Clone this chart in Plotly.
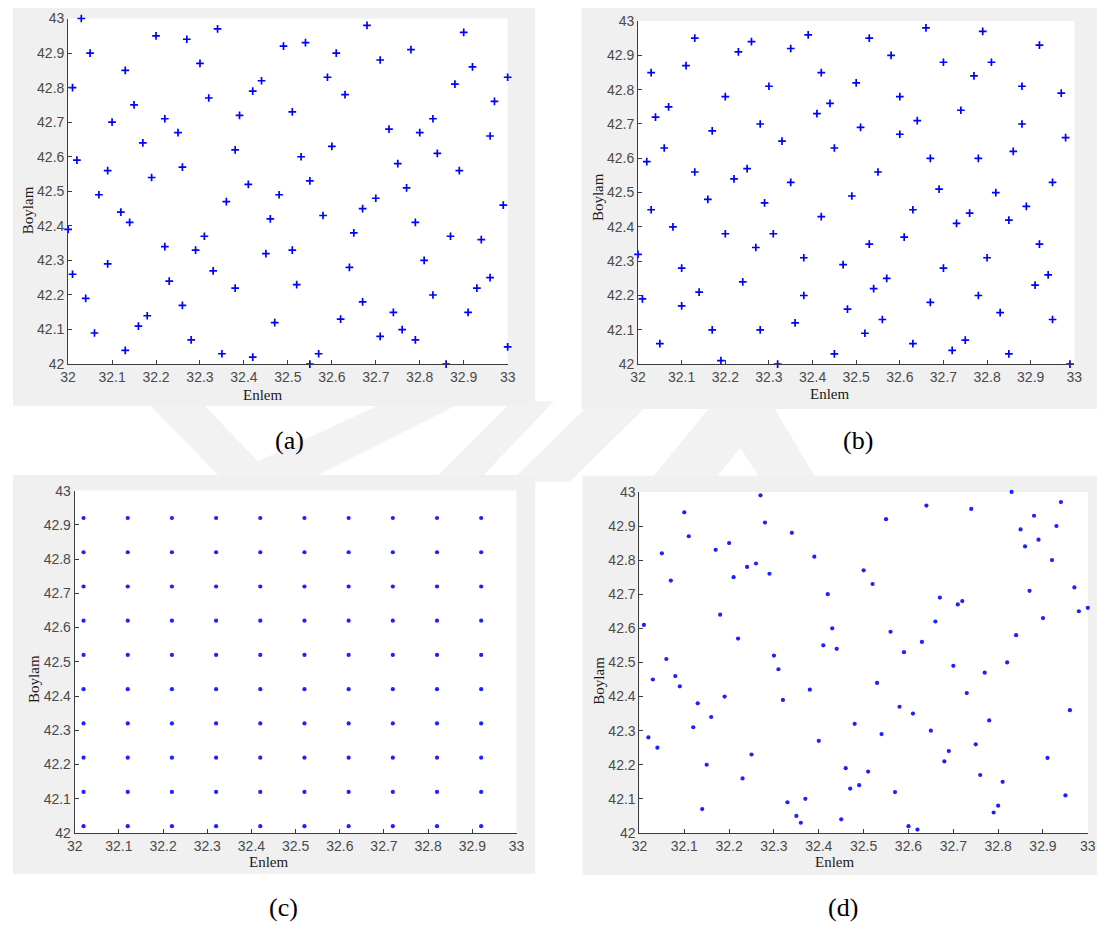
import plotly.graph_objects as go

W, H = 1105, 937

# ---------------- data: Enlem (x) / Boylam (y) samples ----------------
a_enlem = [32.03, 32.05, 32.01, 32.13, 32.20, 32.27, 32.34, 32.30, 32.15, 32.10,
           32.22, 32.25, 32.32, 32.17, 32.39, 32.42, 32.44, 32.49, 32.51, 32.02,
           32.09, 32.07, 32.19, 32.26, 32.38, 32.36, 32.41, 32.48, 32.46, 32.12,
           32.14, 32.00, 32.01, 32.09, 32.04, 32.06, 32.13, 32.16, 32.18, 32.22,
           32.23, 32.26, 32.29, 32.31, 32.33, 32.28, 32.35, 32.38, 32.42, 32.45,
           32.47, 32.51,
           32.68, 32.54, 32.61, 32.71, 32.78, 32.90, 32.92, 33.00, 32.88, 32.59,
           32.63, 32.97, 32.83, 32.73, 32.80, 32.96, 32.60, 32.53, 32.84, 32.75,
           32.89, 32.55, 32.77, 32.70, 32.67, 32.99, 32.58, 32.79, 32.65, 32.87,
           32.94, 32.81, 32.64, 32.96, 32.93, 32.52, 32.83, 32.67, 32.74, 32.91,
           32.62, 32.76, 32.71, 32.79, 33.00, 32.57, 32.55, 32.86]
a_boylam = [43.00, 42.90, 42.80, 42.85, 42.95, 42.94, 42.97, 42.87, 42.75, 42.70,
            42.71, 42.67, 42.77, 42.64, 42.72, 42.79, 42.82, 42.92, 42.73, 42.59,
            42.56, 42.49, 42.54, 42.57, 42.62, 42.47, 42.52, 42.49, 42.42, 42.44,
            42.41, 42.39, 42.26, 42.29, 42.19, 42.09, 42.04, 42.11, 42.14, 42.34,
            42.24, 42.17, 42.33, 42.37, 42.27, 42.07, 42.03, 42.22, 42.02, 42.32,
            42.12, 42.33,
            42.98, 42.93, 42.90, 42.88, 42.91, 42.96, 42.86, 42.83, 42.81, 42.83,
            42.78, 42.76, 42.71, 42.68, 42.67, 42.66, 42.63, 42.60, 42.61, 42.58,
            42.56, 42.53, 42.51, 42.48, 42.45, 42.46, 42.43, 42.41, 42.38, 42.37,
            42.36, 42.30, 42.28, 42.25, 42.22, 42.23, 42.20, 42.18, 42.15, 42.15,
            42.13, 42.10, 42.08, 42.07, 42.05, 42.03, 42.00, 42.00]

b_enlem = [32.13, 32.03, 32.11, 32.23, 32.26, 32.35, 32.39, 32.42, 32.30, 32.20,
           32.07, 32.04, 32.17, 32.28, 32.41, 32.44, 32.06, 32.33, 32.45, 32.02,
           32.13, 32.25, 32.22, 32.35, 32.16, 32.29, 32.03, 32.08, 32.20, 32.31,
           32.42, 32.27, 32.00, 32.38, 32.10, 32.47, 32.24, 32.14, 32.01, 32.38,
           32.10, 32.36, 32.17, 32.28, 32.05, 32.19, 32.32, 32.45,
           32.66, 32.79, 32.53, 32.92, 32.58, 32.70, 32.81, 32.77, 32.50, 32.88,
           32.97, 32.60, 32.74, 32.64, 32.51, 32.88, 32.60, 32.98, 32.86, 32.67,
           32.78, 32.55, 32.95, 32.69, 32.82, 32.49, 32.89, 32.63, 32.76, 32.85,
           32.73, 32.61, 32.53, 32.92, 32.80, 32.70, 32.57, 32.94, 32.91, 32.54,
           32.78, 32.67, 32.48, 32.83, 32.56, 32.95, 32.52, 32.63, 32.75, 32.72,
           32.85, 32.99]
b_boylam = [42.95, 42.85, 42.87, 42.91, 42.94, 42.92, 42.96, 42.85, 42.81, 42.78,
            42.75, 42.72, 42.68, 42.70, 42.73, 42.76, 42.63, 42.65, 42.63, 42.59,
            42.56, 42.57, 42.54, 42.53, 42.48, 42.47, 42.45, 42.40, 42.38, 42.38,
            42.43, 42.34, 42.32, 42.31, 42.28, 42.29, 42.24, 42.21, 42.19, 42.20,
            42.17, 42.12, 42.10, 42.10, 42.06, 42.01, 42.00, 42.03,
            42.98, 42.97, 42.95, 42.93, 42.90, 42.88, 42.88, 42.84, 42.82, 42.81,
            42.79, 42.78, 42.74, 42.71, 42.69, 42.70, 42.67, 42.66, 42.62, 42.60,
            42.60, 42.56, 42.53, 42.51, 42.50, 42.49, 42.46, 42.45, 42.44, 42.42,
            42.41, 42.37, 42.35, 42.35, 42.31, 42.28, 42.25, 42.26, 42.23, 42.22,
            42.20, 42.18, 42.16, 42.15, 42.13, 42.13, 42.09, 42.06, 42.07, 42.04,
            42.03, 42.00]

# regular lattice: column and row levels
c_enlem_levels = [32.02, 32.12, 32.22, 32.32, 32.42, 32.52, 32.62, 32.72, 32.82, 32.92]
c_boylam_levels = [42.02, 42.12, 42.22, 42.32, 42.42, 42.52, 42.62, 42.72, 42.82, 42.92]

d_enlem = [32.27, 32.10, 32.11, 32.28, 32.34, 32.05, 32.17, 32.20, 32.24, 32.26,
           32.21, 32.29, 32.39, 32.07, 32.42, 32.18, 32.01, 32.43, 32.22, 32.41,
           32.44, 32.30, 32.06, 32.31, 32.03, 32.08, 32.09, 32.38, 32.19, 32.32,
           32.13, 32.16, 32.12, 32.02, 32.40, 32.04, 32.25, 32.15, 32.23, 32.33,
           32.37, 32.14, 32.35, 32.36, 32.45,
           32.83, 32.94, 32.64, 32.74, 32.55, 32.88, 32.85, 32.93, 32.89, 32.86,
           32.92, 32.50, 32.52, 32.97, 32.87, 32.67, 32.72, 32.71, 32.98, 33.00,
           32.90, 32.66, 32.56, 32.84, 32.63, 32.59, 32.82, 32.70, 32.77, 32.73,
           32.53, 32.58, 32.61, 32.96, 32.48, 32.78, 32.54, 32.65, 32.75, 32.69,
           32.68, 32.91, 32.46, 32.51, 32.76, 32.47, 32.49, 32.81, 32.57, 32.95,
           32.80, 32.79, 32.60, 32.62]
d_boylam = [42.99, 42.94, 42.87, 42.91, 42.88, 42.82, 42.83, 42.85, 42.78, 42.79,
            42.75, 42.76, 42.81, 42.74, 42.70, 42.64, 42.61, 42.60, 42.57, 42.55,
            42.54, 42.52, 42.51, 42.48, 42.45, 42.46, 42.43, 42.42, 42.40, 42.39,
            42.38, 42.34, 42.31, 42.28, 42.27, 42.25, 42.23, 42.20, 42.16, 42.09,
            42.10, 42.07, 42.05, 42.03, 42.04,
            43.00, 42.97, 42.96, 42.95, 42.92, 42.93, 42.89, 42.90, 42.86, 42.84,
            42.80, 42.77, 42.73, 42.72, 42.71, 42.69, 42.68, 42.67, 42.65, 42.66,
            42.63, 42.62, 42.59, 42.58, 42.56, 42.53, 42.50, 42.49, 42.47, 42.41,
            42.44, 42.37, 42.35, 42.36, 42.32, 42.33, 42.29, 42.30, 42.26, 42.24,
            42.21, 42.22, 42.19, 42.18, 42.17, 42.13, 42.14, 42.15, 42.12, 42.11,
            42.08, 42.06, 42.02, 42.01]

x_tickvals = [32, 32.1, 32.2, 32.3, 32.4, 32.5, 32.6, 32.7, 32.8, 32.9, 33]
x_ticktext = ["32", "32.1", "32.2", "32.3", "32.4", "32.5", "32.6", "32.7", "32.8", "32.9", "33"]
y_tickvals = [42, 42.1, 42.2, 42.3, 42.4, 42.5, 42.6, 42.7, 42.8, 42.9, 43]
y_ticktext = ["42", "42.1", "42.2", "42.3", "42.4", "42.5", "42.6", "42.7", "42.8", "42.9", "43"]

panel_captions = ["(a)", "(b)", "(c)", "(d)"]
x_title = "Enlem"
y_title = "Boylam"

# lattice points for panel (c)
c_enlem = [xv for yv in c_boylam_levels for xv in c_enlem_levels]
c_boylam = [yv for yv in c_boylam_levels for xv in c_enlem_levels]


# ---------------- layout helpers (pixel -> paper) ----------------
def fx(p):
    return p / W


def fy(p):
    return 1 - p / H


BLUE = "#0000ff"
AXIS_COLOR = "#3c3c3c"
TICK_FONT = dict(family="Liberation Sans, Arial, sans-serif", size=14, color="#4a4a4a")
SERIF = "Liberation Serif, Times New Roman, serif"
PANEL_GRAY = "#f0f0f0"

# (panel box, axes box) in pixels: (x0, y0, x1, y1)
panels = [
    dict(box=(5, 0, 535, 405), axes=(61, 10.7, 507, 362.3),
         xt=(258, 394), yt=(21, 206), cap=(286, 440)),
    dict(box=(582, 0, 1105, 408), axes=(639.3, 13.3, 1082, 362.3),
         xt=(834, 392.5), yt=(598, 192), cap=(862, 440)),
    dict(box=(5, 475, 535, 881), axes=(67.7, 491, 516, 839.3),
         xt=(264.5, 869), yt=(27, 683), cap=(280, 915)),
    dict(box=(583, 476, 1105, 882), axes=(640.7, 492.3, 1095.7, 839.3),
         xt=(838.5, 868.5), yt=(600, 684), cap=(847, 915)),
]

series = [
    (a_enlem, a_boylam, "plus"),
    (b_enlem, b_boylam, "plus"),
    (c_enlem, c_boylam, "dot"),
    (d_enlem, d_boylam, "dot"),
]

fig = go.Figure()

for i, (xs, ys, kind) in enumerate(series):
    sfx = "" if i == 0 else str(i + 1)
    if kind == "plus":
        marker = dict(symbol="cross-thin", size=5.5, color=BLUE,
                      line=dict(width=1.7, color=BLUE))
    else:
        marker = dict(symbol="circle", size=4.2, color="#1f1fff", line=dict(width=0))
    fig.add_trace(go.Scatter(x=xs, y=ys, mode="markers", marker=marker,
                             xaxis="x" + sfx, yaxis="y" + sfx,
                             cliponaxis=False, hoverinfo="x+y"))

layout = dict(width=W, height=H, margin=dict(l=0, r=0, t=0, b=0),
              autosize=False, showlegend=False,
              paper_bgcolor="white", plot_bgcolor="rgba(0,0,0,0)")

for i, p in enumerate(panels):
    sfx = "" if i == 0 else str(i + 1)
    x0, y0, x1, y1 = p["axes"]
    common = dict(tickmode="array", ticks="inside", ticklen=4, tickwidth=1,
                  tickcolor=AXIS_COLOR, showline=True, linecolor=AXIS_COLOR,
                  linewidth=1, mirror=False, showgrid=False, zeroline=False,
                  tickfont=TICK_FONT, fixedrange=True)
    layout["xaxis" + sfx] = dict(domain=[fx(x0), fx(x1)], range=[32, 33],
                                 tickvals=x_tickvals, ticktext=x_ticktext,
                                 anchor="y" + sfx, **common)
    layout["yaxis" + sfx] = dict(domain=[fy(y1), fy(y0)], range=[42, 43],
                                 tickvals=y_tickvals, ticktext=y_ticktext,
                                 anchor="x" + sfx, **common)

fig.update_layout(**layout)

# faint background emblem bands visible between the panels
bands = [
    ((140, 195), 400, (218, 272), 480),
    ((385, 463), 400, (213, 305), 480),
    ((512, 554), 400, (432, 478), 480),
    ((590, 650), 403, (510, 570), 482),
    ((715, 780), 403, (650, 715), 482),
    ((715, 775), 403, (765, 822), 482),
]
shapes = []
for (tl, tr), yt, (bl, br), yb in bands:
    path = "M {:.4f} {:.4f} L {:.4f} {:.4f} L {:.4f} {:.4f} L {:.4f} {:.4f} Z".format(
        fx(tl), fy(yt), fx(tr), fy(yt), fx(br), fy(yb), fx(bl), fy(yb))
    shapes.append(dict(type="path", xref="paper", yref="paper", path=path,
                       fillcolor="#f2f2f2", line=dict(width=0), layer="below"))

# gray figure panels and white axes areas
for p in panels:
    bx0, by0, bx1, by1 = p["box"]
    shapes.append(dict(type="rect", xref="paper", yref="paper",
                       x0=fx(bx0), x1=fx(bx1), y0=fy(by1), y1=fy(by0),
                       fillcolor=PANEL_GRAY, line=dict(width=0), layer="below"))
for p in panels:
    x0, y0, x1, y1 = p["axes"]
    shapes.append(dict(type="rect", xref="paper", yref="paper",
                       x0=fx(x0), x1=fx(x1), y0=fy(y1), y1=fy(y0),
                       fillcolor="white", line=dict(width=0), layer="below"))

annotations = []
for p, cap in zip(panels, panel_captions):
    annotations.append(dict(text=x_title, x=fx(p["xt"][0]), y=fy(p["xt"][1]),
                            xref="paper", yref="paper", showarrow=False,
                            xanchor="center", yanchor="middle",
                            font=dict(family=SERIF, size=15, color="#1a1a1a")))
    annotations.append(dict(text=y_title, x=fx(p["yt"][0]), y=fy(p["yt"][1]),
                            xref="paper", yref="paper", showarrow=False,
                            xanchor="center", yanchor="middle", textangle=-90,
                            font=dict(family=SERIF, size=15, color="#1a1a1a")))
    annotations.append(dict(text=cap, x=fx(p["cap"][0]), y=fy(p["cap"][1]),
                            xref="paper", yref="paper", showarrow=False,
                            xanchor="center", yanchor="middle",
                            font=dict(family=SERIF, size=26, color="black")))

fig.update_layout(shapes=shapes, annotations=annotations)

fig.write_html("out.html", config={"displayModeBar": False})
